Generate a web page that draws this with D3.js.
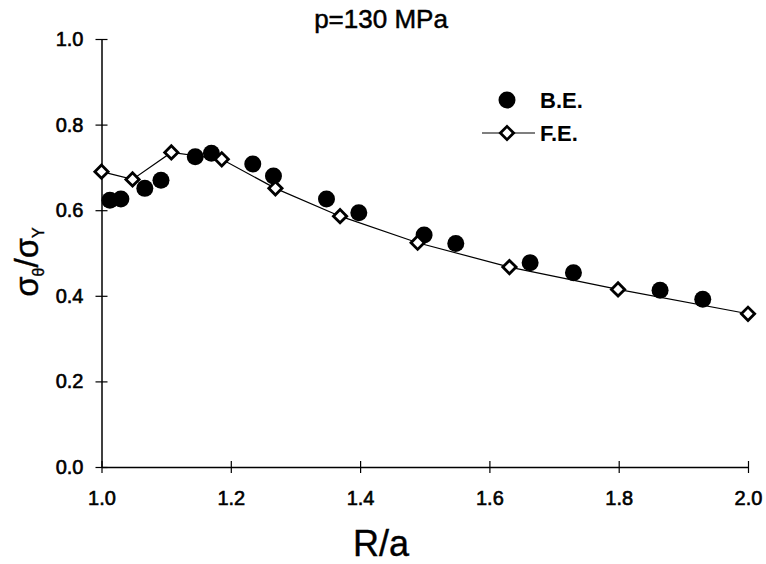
<!DOCTYPE html>
<html>
<head>
<meta charset="utf-8">
<script src="https://cdnjs.cloudflare.com/ajax/libs/d3/7.8.5/d3.min.js"></script>
<style>
  body { margin: 0; background: #fff; }
  svg { font-family: "Liberation Sans", Arial, sans-serif; }
</style>
</head>
<body>
<svg width="766" height="564"></svg>
<script>
// B.E. (boundary element) points
var beX = [1.013, 1.030, 1.067, 1.092, 1.145, 1.170, 1.234, 1.266, 1.348, 1.398, 1.499, 1.548, 1.663, 1.730, 1.864, 1.930];
var beY = [0.623, 0.626, 0.651, 0.670, 0.725, 0.733, 0.708, 0.680, 0.626, 0.594, 0.542, 0.522, 0.477, 0.454, 0.413, 0.392];
// F.E. (finite element) points, joined by a line
var feX = [1.0, 1.048, 1.108, 1.186, 1.269, 1.369, 1.489, 1.631, 1.799, 2.0];
var feY = [0.690, 0.672, 0.735, 0.719, 0.651, 0.586, 0.524, 0.467, 0.415, 0.358];
var xTicks = [1.0, 1.2, 1.4, 1.6, 1.8, 2.0];
var yTicks = [0.0, 0.2, 0.4, 0.6, 0.8, 1.0];

const svg = d3.select("svg"),
  margin = {top: 39, right: 18, bottom: 97, left: 101.5},
  width = +svg.attr("width") - margin.left - margin.right,
  height = +svg.attr("height") - margin.top - margin.bottom,
  x = d3.scaleLinear().domain([1, 2]).range([0, width]),
  y = d3.scaleLinear().domain([0, 1]).range([height, 0]),
  g = svg.append("g").attr("transform", `translate(${margin.left},${margin.top})`);

const be = beX.map((v, i) => ({x: v, y: beY[i]}));
const fe = feX.map((v, i) => ({x: v, y: feY[i]}));

// axes with ticks crossing the line
const xAxis = g.append("g")
  .attr("transform", `translate(0,${height})`)
  .call(d3.axisBottom(x).tickValues(xTicks).tickFormat(d3.format(".1f")).tickSize(6).tickSizeOuter(0).tickPadding(18));
const yAxis = g.append("g")
  .call(d3.axisLeft(y).tickValues(yTicks).tickFormat(d3.format(".1f")).tickSize(6).tickSizeOuter(0).tickPadding(12));

[xAxis, yAxis].forEach(a => {
  a.select(".domain").attr("stroke", "#000").attr("stroke-width", 1.5);
  a.selectAll(".tick line").attr("stroke", "#000").attr("stroke-width", 1.2);
  a.selectAll(".tick text").attr("font-size", 20).attr("fill", "#000")
    .attr("stroke", "#000").attr("stroke-width", 0.6)
    .attr("font-family", "'Liberation Sans', Arial, sans-serif");
});
xAxis.selectAll(".tick line").attr("y1", -6);
yAxis.selectAll(".tick line").attr("x1", 6);

// F.E. line
g.append("path")
  .datum(fe)
  .attr("fill", "none")
  .attr("stroke", "#000")
  .attr("stroke-width", 1.2)
  .attr("d", d3.line().x(d => x(d.x)).y(d => y(d.y)));

// B.E. circles
g.selectAll(".be")
  .data(be)
  .enter().append("circle")
  .attr("class", "be")
  .attr("cx", d => x(d.x))
  .attr("cy", d => y(d.y))
  .attr("r", 8.5)
  .attr("fill", "#000");

// F.E. diamonds
const diamond = d3.symbol().type(d3.symbolSquare).size(88);
g.selectAll(".fe")
  .data(fe)
  .enter().append("path")
  .attr("class", "fe")
  .attr("d", diamond)
  .attr("transform", d => `translate(${x(d.x)},${y(d.y)}) rotate(45)`)
  .attr("fill", "#fff")
  .attr("stroke", "#000")
  .attr("stroke-width", 2.8);

// legend
const lg = svg.append("g");
lg.append("circle").attr("cx", 507).attr("cy", 100).attr("r", 8.5).attr("fill", "#000");
lg.append("text").attr("x", 540).attr("y", 108).attr("font-size", 22).attr("font-weight", "bold").text("B.E.");
lg.append("line").attr("x1", 482).attr("x2", 535).attr("y1", 133).attr("y2", 133)
  .attr("stroke", "#000").attr("stroke-width", 1.2);
lg.append("path").attr("d", diamond)
  .attr("transform", "translate(507,133) rotate(45)")
  .attr("fill", "#fff").attr("stroke", "#000").attr("stroke-width", 2.8);
lg.append("text").attr("x", 540).attr("y", 141).attr("font-size", 22).attr("font-weight", "bold").text("F.E.");

// title
svg.append("text").attr("x", 381).attr("y", 28).attr("text-anchor", "middle")
  .attr("font-size", 26).attr("stroke", "#000").attr("stroke-width", 0.5)
  .text("p=130 MPa");

// axis labels
svg.append("text").attr("x", 381).attr("y", 556).attr("text-anchor", "middle")
  .attr("font-size", 36).attr("stroke", "#000").attr("stroke-width", 0.4)
  .text("R/a");

const yl = svg.append("text")
  .attr("transform", "translate(38,262) rotate(-90)")
  .attr("text-anchor", "middle")
  .attr("font-size", 33)
  .attr("stroke", "#000").attr("stroke-width", 0.4);
yl.append("tspan").text("σ");
yl.append("tspan").attr("font-size", 16).attr("dy", 6).text("θ");
yl.append("tspan").attr("dy", -6).text("/σ");
yl.append("tspan").attr("font-size", 16).attr("dy", 6).text("Y");
</script>
</body>
</html>
